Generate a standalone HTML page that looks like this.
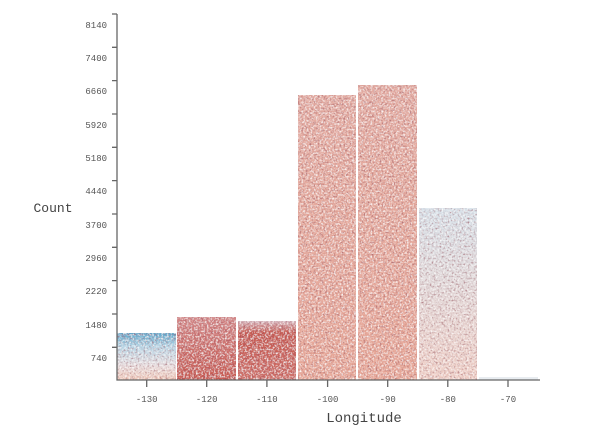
<!DOCTYPE html>
<html><head><style>
body{margin:0;background:#fff;}
svg text{font-family:"Liberation Mono",monospace;fill:#555;}
</style></head><body>
<svg width="600" height="442" viewBox="0 0 600 442" xmlns="http://www.w3.org/2000/svg">
<defs>
<filter id="n" x="0" y="0" width="100%" height="100%">
<feTurbulence type="fractalNoise" baseFrequency="0.5" numOctaves="2" seed="3" result="t"/>
<feColorMatrix in="t" type="matrix" values="0 0 0 0 0.35  0 0 0 0 0.08  0 0 0 0 0.12  0 0 0 2.2 -1.05" result="d"/>
<feComposite in="d" in2="SourceGraphic" operator="in" result="dd"/>
<feTurbulence type="fractalNoise" baseFrequency="0.55" numOctaves="2" seed="11" result="t2"/>
<feColorMatrix in="t2" type="matrix" values="0 0 0 0 1  0 0 0 0 1  0 0 0 0 1  0 0 0 2.2 -1.0" result="w"/>
<feComposite in="w" in2="SourceGraphic" operator="in" result="ww"/>
<feMerge><feMergeNode in="SourceGraphic"/><feMergeNode in="dd"/><feMergeNode in="ww"/></feMerge>
</filter>
<linearGradient id="g1" x1="0" y1="0" x2="0" y2="1">
<stop offset="0" stop-color="#5aa8cc"/><stop offset="0.3" stop-color="#b8d6e6"/><stop offset="0.7" stop-color="#eadfe0"/><stop offset="1" stop-color="#f0c8b8"/></linearGradient>
<linearGradient id="g2" x1="0" y1="0" x2="0" y2="1">
<stop offset="0" stop-color="#d48888"/><stop offset="1" stop-color="#c95a50"/></linearGradient>
<linearGradient id="g3" x1="0" y1="0" x2="0" y2="1">
<stop offset="0" stop-color="#d8b8c0"/><stop offset="0.2" stop-color="#c85a50"/><stop offset="1" stop-color="#d07068"/></linearGradient>
<linearGradient id="g4" x1="0" y1="0" x2="0" y2="1">
<stop offset="0" stop-color="#e4aca2"/><stop offset="1" stop-color="#e8a898"/></linearGradient>
<linearGradient id="g6" x1="0" y1="0" x2="0" y2="1">
<stop offset="0" stop-color="#d8e2ea"/><stop offset="1" stop-color="#f0cfc6"/></linearGradient>
</defs>
<g filter="url(#n)">
<rect x="117" y="333" width="59" height="47" fill="url(#g1)"/>
<rect x="177" y="317" width="59" height="63" fill="url(#g2)"/>
<rect x="238" y="321" width="58" height="59" fill="url(#g3)"/>
<rect x="298" y="95" width="58" height="285" fill="url(#g4)"/>
<rect x="358" y="85" width="59" height="295" fill="url(#g4)"/>
<rect x="419" y="208" width="58" height="172" fill="url(#g6)"/>
</g>
<rect x="479" y="377" width="59" height="3" fill="#e8ecf0"/>
<g stroke="#666" stroke-width="1.3" fill="none">
<path d="M117 14V380H540"/>
<path d="M112 14H117M112 47.3H117M112 80.6H117M112 114H117M112 147.3H117M112 180.6H117M112 214H117M112 247.3H117M112 280.6H117M112 314H117M112 347.3H117"/>
<path d="M146.7 380v7M206.7 380v7M266.9 380v7M327.6 380v7M387.7 380v7M447.8 380v7M508 380v7"/>
</g>
<g font-size="9" text-anchor="end">
<text x="107" y="28">8140</text><text x="107" y="61">7400</text><text x="107" y="94">6660</text><text x="107" y="128">5920</text><text x="107" y="161">5180</text><text x="107" y="194">4440</text><text x="107" y="228">3700</text><text x="107" y="261">2960</text><text x="107" y="294">2220</text><text x="107" y="328">1480</text><text x="107" y="361">740</text>
</g>
<g font-size="9" text-anchor="middle">
<text x="146.7" y="402">-130</text><text x="206.7" y="402">-120</text><text x="266.9" y="402">-110</text><text x="327.6" y="402">-100</text><text x="387.7" y="402">-90</text><text x="447.8" y="402">-80</text><text x="508" y="402">-70</text>
</g>
<text x="364" y="422" font-size="14" text-anchor="middle" style="fill:#444">Longitude</text>
<text x="53" y="212" font-size="13" text-anchor="middle" style="fill:#444">Count</text>
</svg>
</body></html>
